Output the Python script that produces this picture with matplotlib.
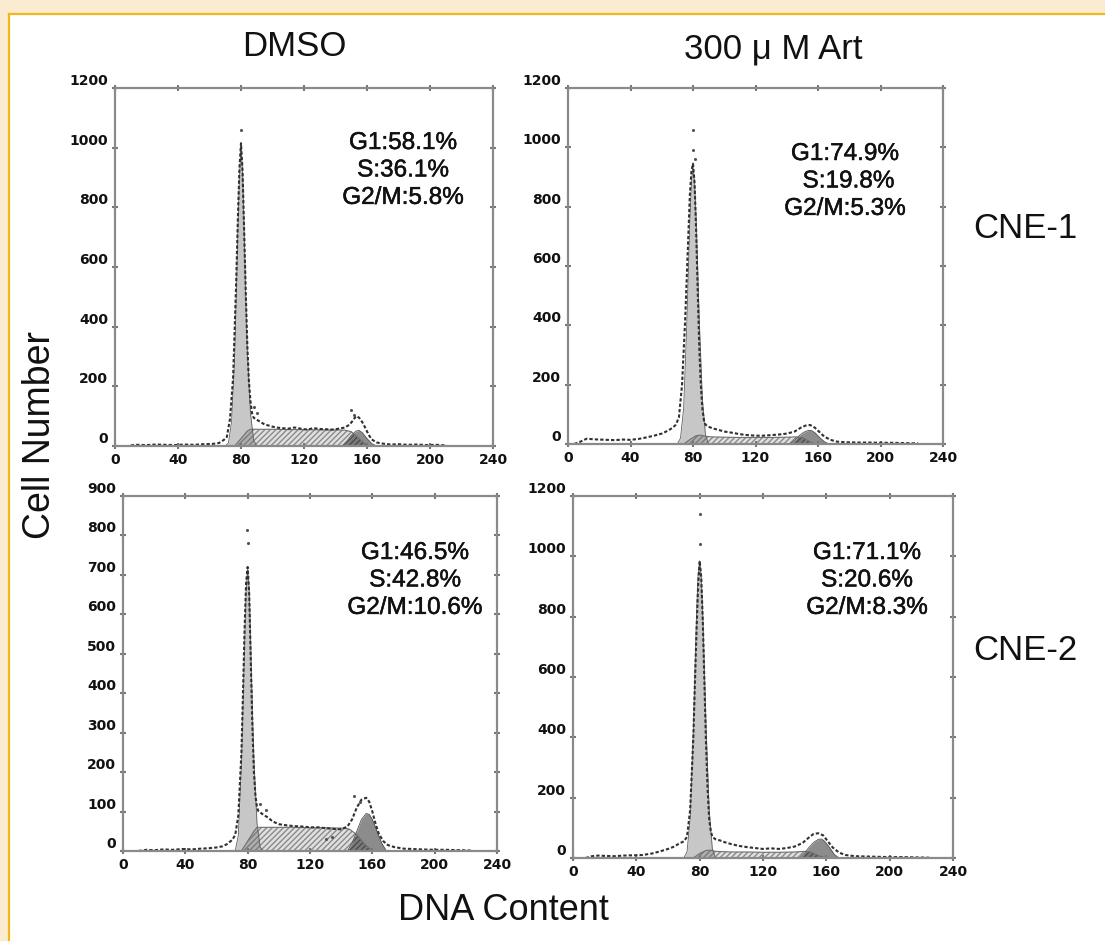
# Ciclo celular - CNE-1 / CNE-2, DMSO x 300 uM Art (histogramas de citometria)
import numpy as np
import matplotlib
matplotlib.use("Agg")
import matplotlib.pyplot as plt
import matplotlib.patheffects as pe
from matplotlib.patches import Rectangle
from matplotlib.lines import Line2D

# ---------------- Dados ----------------
# Painel 1: CNE-1, DMSO
p1_raw_x = [10, 14, 20, 26, 32, 38, 44, 50, 56, 62, 66, 69, 71, 73, 75, 77, 78, 79, 80, 81, 82, 83, 84, 85, 86, 87, 88,
            90, 92, 95, 98, 102, 106, 110, 114, 118, 122, 126, 130, 134, 138, 142, 146, 149, 151, 153, 155, 157, 159,
            161, 163, 166, 170, 175, 180, 186, 192, 198, 204, 210]
p1_raw_y = [2, 4, 3, 5, 4, 3, 5, 4, 6, 7, 10, 20, 30, 90, 230, 560, 760, 930, 1015, 920, 720, 520, 340, 220, 150, 110, 95,
            88, 82, 72, 68, 62, 60, 58, 62, 58, 55, 60, 57, 56, 55, 58, 62, 72, 85, 100, 95, 80, 60,
            38, 22, 12, 8, 5, 6, 4, 5, 3, 4, 2]
p1_g1_x = [70, 72, 74, 76, 77, 78, 79, 80, 81, 82, 83, 84, 86, 88, 90]
p1_g1_y = [0, 10, 80, 300, 500, 720, 900, 1000, 920, 720, 500, 320, 110, 20, 0]
p1_s_x = [76, 80, 84, 86, 90, 100, 110, 120, 130, 140, 146, 150, 154, 158, 162]
p1_s_y = [0, 25, 50, 56, 56, 56, 55, 55, 54, 54, 53, 48, 30, 10, 0]
p1_g2_x = [144, 147, 150, 153, 155, 157, 160, 163, 166]
p1_g2_y = [0, 15, 35, 50, 52, 45, 25, 8, 0]
p1_out_x = [80, 88, 90, 150, 152]
p1_out_y = [1060, 130, 110, 120, 105]

# Painel 2: CNE-1, 300 uM Art
p2_raw_x = [4, 8, 12, 16, 20, 25, 30, 35, 40, 45, 50, 55, 60, 64, 67, 69, 71, 73, 75, 77, 78, 79, 80, 81, 82, 83, 84, 85,
            86, 87, 88, 90, 93, 96, 100, 105, 110, 115, 120, 125, 130, 135, 140, 145, 149, 152, 155, 158, 161, 164,
            168, 172, 178, 185, 192, 200, 208, 216, 224]
p2_raw_y = [0, 8, 18, 16, 15, 14, 13, 15, 14, 17, 22, 28, 35, 45, 55, 65, 90, 200, 420, 700, 840, 920, 945, 880, 720, 520,
            330, 200, 120, 80, 65, 58, 52, 48, 42, 38, 33, 30, 28, 28, 30, 32, 35, 42, 55, 62, 64, 55, 40, 25,
            14, 8, 6, 5, 5, 4, 4, 3, 2]
p2_g1_x = [70, 72, 74, 76, 78, 79, 80, 81, 82, 84, 86, 88, 90]
p2_g1_y = [0, 20, 120, 400, 750, 880, 935, 880, 760, 420, 150, 30, 0]
p2_s_x = [74, 78, 82, 85, 88, 92, 100, 110, 120, 130, 140, 146, 150, 154, 158]
p2_s_y = [0, 15, 28, 30, 26, 24, 23, 22, 22, 22, 23, 24, 22, 10, 0]
p2_g2_x = [142, 145, 148, 151, 154, 156, 158, 161, 164, 167]
p2_g2_y = [0, 12, 28, 40, 46, 45, 38, 22, 8, 0]
p2_out_x = [80, 80, 81]
p2_out_y = [990, 1060, 960]

# Painel 3: CNE-2, DMSO
p3_raw_x = [10, 15, 20, 26, 32, 38, 44, 50, 55, 60, 64, 67, 70, 72, 74, 76, 77, 78, 79, 80, 81, 82, 83, 84, 85, 86, 87,
            88, 90, 93, 96, 100, 105, 110, 115, 120, 125, 130, 135, 140, 144, 147, 150, 153, 156, 158, 160, 162,
            164, 167, 170, 174, 180, 186, 192, 200, 208, 216, 224]
p3_raw_y = [0, 3, 2, 4, 3, 5, 4, 6, 7, 9, 12, 18, 28, 40, 90, 250, 400, 560, 680, 720, 650, 480, 320, 200, 140, 110, 100,
            98, 92, 85, 75, 68, 65, 63, 62, 60, 60, 58, 56, 55, 62, 80, 110, 130, 135, 125, 100, 70,
            45, 25, 15, 10, 6, 5, 4, 3, 3, 2, 1]
p3_g1_x = [72, 74, 76, 77, 78, 79, 80, 81, 82, 83, 84, 86, 88, 90]
p3_g1_y = [0, 40, 220, 360, 520, 660, 715, 660, 520, 360, 230, 70, 10, 0]
p3_s_x = [76, 80, 84, 86, 90, 100, 110, 120, 130, 140, 145, 150, 155, 160]
p3_s_y = [0, 25, 50, 60, 60, 60, 60, 59, 59, 58, 56, 42, 18, 0]
p3_g2_x = [144, 147, 150, 153, 156, 158, 160, 163, 166, 169]
p3_g2_y = [0, 20, 50, 80, 95, 93, 80, 50, 20, 0]
p3_out_x = [80, 79.5, 88, 92, 130, 134, 148, 152]
p3_out_y = [780, 815, 120, 105, 30, 35, 140, 125]

# Painel 4: CNE-2, 300 uM Art
p4_raw_x = [8, 12, 16, 20, 26, 32, 38, 44, 50, 55, 60, 64, 67, 70, 72, 74, 76, 77, 78, 79, 80, 81, 82, 83, 84, 85, 86,
            87, 88, 90, 93, 96, 100, 105, 110, 115, 120, 125, 130, 135, 140, 145, 149, 152, 155, 158, 161, 164,
            168, 172, 178, 185, 192, 200, 208, 216, 225]
p4_raw_y = [0, 6, 8, 7, 6, 8, 9, 10, 15, 22, 30, 38, 48, 55, 70, 160, 400, 580, 750, 900, 985, 930, 780, 580, 380, 230, 130,
            90, 70, 62, 58, 52, 46, 40, 36, 33, 30, 32, 30, 33, 38, 50, 68, 80, 82, 75, 55, 35,
            18, 10, 6, 5, 4, 3, 3, 2, 1]
p4_g1_x = [70, 72, 74, 76, 78, 79, 80, 81, 82, 84, 86, 88, 90]
p4_g1_y = [0, 20, 130, 420, 800, 940, 985, 930, 800, 440, 160, 30, 0]
p4_s_x = [76, 80, 84, 87, 90, 100, 110, 120, 130, 140, 146, 150, 155, 160]
p4_s_y = [0, 15, 25, 26, 22, 20, 20, 19, 19, 20, 22, 20, 8, 0]
p4_g2_x = [143, 146, 149, 152, 155, 157, 159, 162, 165, 168]
p4_g2_y = [0, 15, 35, 52, 62, 63, 55, 35, 12, 0]
p4_out_x = [80, 80]
p4_out_y = [1040, 1140]

# Rotulos de fase
p1_txt = "G1:58.1%\nS:36.1%\nG2/M:5.8%"
p2_txt = "G1:74.9%\n S:19.8%\nG2/M:5.3%"
p3_txt = "G1:46.5%\nS:42.8%\nG2/M:10.6%"
p4_txt = "G1:71.1%\nS:20.6%\nG2/M:8.3%"

x_ticks = [0, 40, 80, 120, 160, 200, 240]
y_ticks_1200 = [0, 200, 400, 600, 800, 1000, 1200]
y_ticks_900 = [0, 100, 200, 300, 400, 500, 600, 700, 800, 900]

# ---------------- Figura ----------------
W, H = 1105, 941
fig = plt.figure(figsize=(W / 100, H / 100), dpi=100)
fig.patch.set_facecolor("#fbecd1")

# moldura branca com borda amarela (topo e esquerda)
fig.patches.append(Rectangle((9 / W, 0), 1, 1 - 14 / H, transform=fig.transFigure,
                             facecolor="white", edgecolor="none", zorder=-5))
fig.lines.append(Line2D([9 / W, 1], [1 - 14 / H, 1 - 14 / H], transform=fig.transFigure,
                        color="#f1b81c", lw=1.6, zorder=-4))
fig.lines.append(Line2D([9 / W, 9 / W], [0, 1 - 14 / H], transform=fig.transFigure,
                        color="#f1b81c", lw=1.6, zorder=-4))


def px_axes(left, right, top, bottom):
    return fig.add_axes([left / W, 1 - bottom / H, (right - left) / W, (bottom - top) / H])


def Painel(ax, raw_x, raw_y, g1_x, g1_y, s_x, s_y, g2_x, g2_y, out_x, out_y, ymax, yticks, texto, tx, ty):
    ax.set_facecolor("white")
    # componentes do ajuste
    ax.fill_between(g1_x, g1_y, color=(0, 0, 0, 0.22), lw=0)
    ax.fill_between(s_x, s_y, facecolor=(0, 0, 0, 0.12), edgecolor=(0.4, 0.4, 0.4, 0.7),
                    hatch="//////", lw=0)
    ax.plot(s_x, s_y, color="#707070", lw=0.8)
    ax.fill_between(g2_x, g2_y, color=(0, 0, 0, 0.45), lw=0)
    ax.plot(g2_x, g2_y, color="#505050", lw=0.6)
    ax.plot(g1_x, g1_y, color="#606060", lw=0.6)
    # dados brutos
    ax.plot(raw_x, raw_y, color="#303030", lw=1.5, ls=(0, (1.6, 1.0)))
    ax.plot(out_x, out_y, ".", color="#555555", ms=2.5)

    ax.set_xlim(0, 240)
    ax.set_ylim(0, ymax)
    ax.set_xticks(x_ticks)
    ax.set_yticks(yticks)
    ax.set_xticklabels([str(v) for v in x_ticks])
    ax.set_yticklabels([str(v) for v in yticks], va="bottom")
    ax.tick_params(axis="both", which="major", direction="inout", length=4, width=1.5, color="#777777",
                   top=True, right=True, labelsize=10, labelcolor="#111111", pad=3)
    for lab in ax.get_xticklabels() + ax.get_yticklabels():
        lab.set_fontweight("bold")
        lab.set_family("DejaVu Sans")
    for sp in ax.spines.values():
        sp.set_color("#8a8a8a")
        sp.set_linewidth(1.6)
    fig.text(tx / W, 1 - ty / H, texto, ha="center", va="top", fontsize=17.5, linespacing=1.32,
             family="Liberation Sans", color="#111111",
             path_effects=[pe.withStroke(linewidth=0.35, foreground="#111111")])


ax1 = px_axes(115, 493, 88, 446)
ax2 = px_axes(568, 943, 88, 444)
ax3 = px_axes(123, 497, 496, 851)
ax4 = px_axes(573, 953, 496, 858)

Painel(ax1, p1_raw_x, p1_raw_y, p1_g1_x, p1_g1_y, p1_s_x, p1_s_y, p1_g2_x, p1_g2_y, p1_out_x, p1_out_y,
       1200, y_ticks_1200, p1_txt, 403, 132)
Painel(ax2, p2_raw_x, p2_raw_y, p2_g1_x, p2_g1_y, p2_s_x, p2_s_y, p2_g2_x, p2_g2_y, p2_out_x, p2_out_y,
       1200, y_ticks_1200, p2_txt, 845, 143)
Painel(ax3, p3_raw_x, p3_raw_y, p3_g1_x, p3_g1_y, p3_s_x, p3_s_y, p3_g2_x, p3_g2_y, p3_out_x, p3_out_y,
       900, y_ticks_900, p3_txt, 415, 542)
Painel(ax4, p4_raw_x, p4_raw_y, p4_g1_x, p4_g1_y, p4_s_x, p4_s_y, p4_g2_x, p4_g2_y, p4_out_x, p4_out_y,
       1200, y_ticks_1200, p4_txt, 867, 542)

# titulos e rotulos
big = dict(family="Liberation Sans", fontsize=25, color="#111111")
fig.text(294 / W, 1 - 46 / H, "DMSO", ha="center", va="center", **big)
fig.text(773 / W, 1 - 49 / H, "300 \u03bc M Art", ha="center", va="center", **big)
fig.text(1025 / W, 1 - 228 / H, "CNE-1", ha="center", va="center", **big)
fig.text(1025 / W, 1 - 650 / H, "CNE-2", ha="center", va="center", **big)
fig.text(40 / W, 1 - 435 / H, "Cell Number", ha="center", va="center", rotation=90,
         family="Liberation Sans", fontsize=27, color="#111111")
fig.text(503 / W, 1 - 910 / H, "DNA Content", ha="center", va="center",
         family="Liberation Sans", fontsize=26, color="#111111")

fig.savefig("out.png", dpi=100, facecolor=fig.get_facecolor())
